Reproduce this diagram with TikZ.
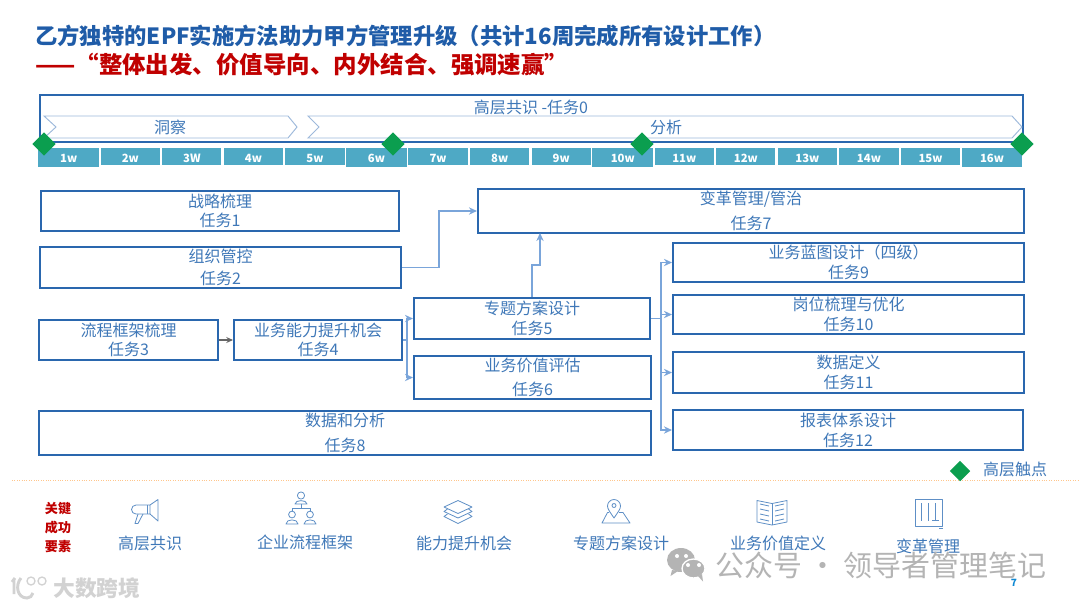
\documentclass[tikz,border=0pt]{standalone}
\usepackage{fontspec}
\setmainfont{Noto Sans CJK SC}
\usetikzlibrary{shapes.geometric,arrows.meta}
\definecolor{boxblue}{HTML}{2A67AE}
\definecolor{txtblue}{HTML}{3F78B8}
\definecolor{linkblue}{HTML}{7AA5DA}
\definecolor{chevline}{HTML}{9DB9DB}
\definecolor{weekbg}{HTML}{4EA9C5}
\definecolor{gem}{HTML}{0B9E4F}
\definecolor{titleblue}{HTML}{1F5CA8}
\definecolor{titlered}{HTML}{C00000}
\definecolor{icon}{HTML}{5E8FC6}
\definecolor{wm}{HTML}{B4B4B4}
\definecolor{wmlight}{HTML}{D2D2D2}
\tikzset{
  taskbox/.style={draw=boxblue,line width=1.6pt,fill=white,inner sep=0pt,text=txtblue,align=center},
  link/.style={draw=linkblue,line width=0.9pt,-{Stealth[length=6pt,width=5.5pt]}},
  linkplain/.style={draw=linkblue,line width=0.9pt},
  chev/.style={draw=chevline,line width=0.7pt},
  weekcell/.style={fill=weekbg,inner sep=0pt,text=white,font=\fontsize{8.5}{10}\selectfont\bfseries},
  gemst/.style={diamond,fill=gem,inner sep=0pt,minimum size=17.5pt},
  plain/.style={text=txtblue,inner sep=0pt,font=\fontsize{12}{14}\selectfont},
  ico/.style={draw=icon,line width=0.6pt,line join=round},
}
\newcommand{\tbox}[7]{\node[taskbox,minimum width={(#4-#2)*0.75pt},minimum height={(#5-#3)*0.75pt},font=\fontsize{12}{#6}\selectfont] (#1) at ({(#2+#4)/2},{(#3+#5)/2}) {#7};}
\begin{document}
\begin{tikzpicture}[x=0.75pt,y=-0.75pt]
\useasboundingbox (0,0) rectangle (1080,608);
\fill[white] (0,0) rectangle (1080,608);
% titles
\node[anchor=west,inner sep=0pt,text=titleblue,font=\fontsize{16.75}{20}\selectfont\bfseries] (title) at (35,36) {乙方独特的EPF实施方法助力甲方管理升级（共计16周完成所有设计工作）};
\node[anchor=west,inner sep=0pt,text=titlered,font=\fontsize{17.6}{20}\selectfont\bfseries] (subtitle) at (35,65) {——“整体出发、价值导向、内外结合、强调速赢”};
% top band
\node[draw=boxblue,line width=1.8pt,inner sep=0pt,minimum width=737pt,minimum height=35.25pt] (task0) at (531.5,118.5) {};
\node[plain] (task0l) at (531,107) {高层共识 -任务0};
\draw[chev] (44,116) -- (288,116) -- (297,127) -- (288,138) -- (44,138) -- (56,127) -- cycle;
\node[plain] (insight) at (170,127) {洞察};
\draw[chev] (308,116) -- (1012,116) -- (1022,127) -- (1012,138) -- (308,138) -- (319,127) -- cycle;
\node[plain] (analysis) at (666,127) {分析};
% weeks
\foreach \i/\l/\t in {1/1w/1,2/2w/0,3/3W/0,4/4w/0,5/5w/0,6/6w/1,7/7w/0,8/8w/0,9/9w/0,10/10w/1,11/11w/0,12/12w/0,13/13w/0,14/14w/0,15/15w/0,16/16w/1}{
  \pgfmathsetmacro{\xc}{38+61.55*(\i-0.5)}
  \ifnum\t=1
    \node[weekcell,minimum width=45.6pt,minimum height=14.25pt,text height=7pt,text depth=0pt] (w\i) at (\xc,157.5) {\l};
  \else
    \node[weekcell,minimum width=44.4pt,minimum height=12.75pt,text height=8.5pt,text depth=0pt] (w\i) at (\xc,156.5) {\l};
  \fi
}
\node[gemst] (g1) at (44,144) {};
\node[gemst] (g2) at (393,144) {};
\node[gemst] (g3) at (642,144) {};
\node[gemst] (g4) at (1022,144) {};
% connector bends
\coordinate (t7in) at (540,233);
\coordinate (b5a) at (532,265);
\coordinate (b5b) at (540,265);
\coordinate (b2) at (439,268);
\coordinate (b4) at (407,340);
\coordinate (bus) at (661,318.5);
% tasks
\tbox{t1}{41}{191}{399}{231}{14.5}{战略梳理\\任务1}
\tbox{t2}{40}{247}{401}{288}{16}{组织管控\\任务2}
\tbox{t3}{39}{320}{218}{360}{14.5}{流程框架梳理\\任务3}
\tbox{t4}{234}{320}{402}{360}{14.5}{业务能力提升机会\\任务4}
\tbox{t5}{414}{298}{650}{339}{14.5}{专题方案设计\\任务5}
\tbox{t6}{414}{356}{651}{399}{18.5}{业务价值评估\\任务6}
\tbox{t7}{478}{189}{1024}{233}{19}{变革管理/管治\\任务7}
\tbox{t8}{39}{411}{651}{455}{19}{数据和分析\\任务8}
\tbox{t9}{673}{243}{1024}{282}{15}{业务蓝图设计（四级）\\任务9}
\tbox{t10}{673}{295}{1024}{334}{15}{岗位梳理与优化\\任务10}
\tbox{t11}{673}{352}{1024}{393}{15}{数据定义\\任务11}
\tbox{t12}{673}{410}{1023}{450}{15}{报表体系设计\\任务12}
% connectors
\draw[-{Stealth[length=5pt,width=4.5pt]},draw=gray!80!black,line width=0.8pt] (t3) -- (t4);
\draw[link] (t2.east) -| (b2 |- t7.west) -- (t7.west);
\draw[link] (t5.north) -- (b5a) -- (b5b) -- (t7in);
\draw[linkplain] (t4.east) -- (b4);
\draw[link] (b4) |- (t5.west);
\draw[link] (b4) |- (t6.west);
\draw[linkplain] (t5.east) -- (bus);
\draw[link] (bus) |- (t9.west);
\draw[link] (bus) |- (t10.west);
\draw[link] (bus) |- (t11.west);
\draw[link] (bus) |- (t12.west);
% legend
\draw[draw=orange!45,line width=0.8pt,densely dotted] (12,480.5) -- (1078,480.5);
\node[diamond,fill=gem,inner sep=0pt,minimum size=15.5pt] (lg) at (960,471) {};
\node[plain] (lgt) at (1015,469) {高层触点};
% bottom row
\node[inner sep=0pt,align=center,text=titlered,font=\fontsize{9.8}{14.3}\selectfont\bfseries] (ksf) at (58,527.5) {关键\\成功\\要素};
\node[plain] (k1) at (150,543) {高层共识};
\node[plain] (k2) at (305,542) {企业流程框架};
\node[plain] (k3) at (464,543) {能力提升机会};
\node[plain] (k4) at (621,543) {专题方案设计};
\node[plain] (k5) at (778,543) {业务价值定义};
\node[plain] (k6) at (928,546) {变革管理};
% megaphone
\draw[ico] (150,505) -- (136,505) arc (270:90:4.5) -- (150,514) -- cycle;
\draw[ico] (147,505) -- (147,514);
\draw[ico] (150,505) -- (158,499.5) -- (158,521) -- (150,514);
\draw[ico] (138,514) -- (135,523.5) -- (138,523.5) -- (143,514);
% org
\draw[ico] (301,495.5) circle (3.6);
\draw[ico] (295,504) .. controls (295,499.5) and (307,499.5) .. (307,504) -- cycle;
\draw[ico] (301,504) -- (301,508) (292,511) -- (292,508) -- (310,508) -- (310,511);
\draw[ico] (292,514.5) circle (3.4);
\draw[ico] (310,514.5) circle (3.4);
\draw[ico] (286,524) .. controls (286,518.5) and (298,518.5) .. (298,524) -- cycle;
\draw[ico] (304,524) .. controls (304,518.5) and (316,518.5) .. (316,524) -- cycle;
% layers
\draw[ico] (458,500.5) -- (472,507) -- (458,513.5) -- (444,507) -- cycle;
\draw[ico] (447.5,509) -- (444,511.5) -- (458,518) -- (472,511.5) -- (468.5,509);
\draw[ico] (447.5,514) -- (444,516.5) -- (458,523.5) -- (472,516.5) -- (468.5,514);
% pin
\draw[ico] (614,518) .. controls (610,512) and (607.5,509) .. (607.5,506) arc (180:360:6.5) .. controls (620.5,509) and (618,512) .. (614,518) -- cycle;
\draw[ico] (614,505.5) circle (2);
\draw[ico] (609,512.5) -- (607.5,512.5) -- (602,523) -- (630,523) -- (623,512.5) -- (619,512.5);
% book
\draw[ico] (772,503.5) -- (757,500.5) -- (757,522) -- (772,525) -- (787,522) -- (787,500.5) -- cycle;
\draw[ico] (772,503.5) -- (772,525);
\foreach \d in {0,5,10,15}{
  \draw[ico] (760,{504+\d}) -- (769,{506+\d});
  \draw[ico] (784,{504+\d}) -- (775,{506+\d});
}
% board
\draw[ico] (915,499) rectangle (942,526);
\draw[ico] (921,503) -- (921,521) (928.5,503) -- (928.5,521) (935.5,503) -- (935.5,520);
\draw[ico,line width=1pt] (932,520.5) -- (939,520.5);
\draw[ico] (939,528.5) -- (943,528.5);
% watermarks
\fill[wm] (681,560) ellipse (14 and 12);
\fill[wm] (672,570) -- (670.5,576) -- (678,571) -- cycle;
\draw[white,fill=wm,line width=1pt] (693.5,568.5) ellipse (11.5 and 9.5);
\fill[wm] (698,576) -- (703,581.5) -- (702,574) -- cycle;
\foreach \p in {(677,556),(686,556),(688,565),(699,565)}{\fill[white] \p circle (2);}
\node[anchor=west,inner sep=0pt,text=wm,font=\fontsize{21.7}{24}\selectfont] (wmark) at (715,565) {公众号 · 领导者管理笔记};
\draw[wmlight,line width=2.2pt] (15,578) -- (12,582) (14,580) -- (14,594);
\draw[wmlight,line width=2.2pt] (21,578) .. controls (15,585) and (17,598) .. (27,598) .. controls (30,598) and (32,596) .. (33,593);
\draw[wmlight,line width=1pt] (31,581) circle (4) (42,581) circle (4);
\node[anchor=west,inner sep=0pt,text=wmlight,font=\fontsize{16.3}{18}\selectfont\bfseries] (wmark2) at (53,588) {大数跨境};
\node[inner sep=0pt,text=cyan!70!blue,font=\fontsize{7.5}{9}\selectfont\bfseries] (pg) at (1014,583) {7};
\end{tikzpicture}
\end{document}
